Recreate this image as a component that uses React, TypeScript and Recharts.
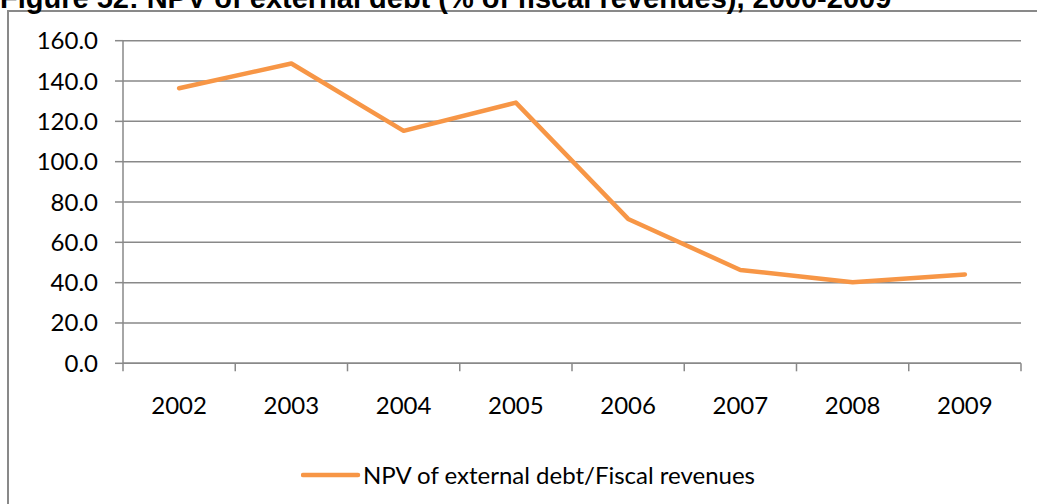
import { LineChart, Line, XAxis, YAxis, CartesianGrid, Legend } from 'recharts';

const years = ['2002', '2003', '2004', '2005', '2006', '2007', '2008', '2009'];
const npvDebt = [136.4, 148.7, 115.3, 129.3, 71.6, 46.3, 40.2, 44.1];
const yTicks = [0, 20, 40, 60, 80, 100, 120, 140, 160];

const data = years.map((year, i) => ({ year, npv: npvDebt[i] }));

const GRAY = '#898989';
const ORANGE = '#F79646';
const FONT = 'Lato, "Open Sans", sans-serif';
const TICK_SIZE = 8;
const TICK_MARGIN = 26;

// category label in the middle of the band, tick marks on the band edges (Excel style)
function YearTick(props: any) {
  const { x, y, payload, index, visibleTicksCount } = props;
  const half = payload.offset || 0;
  const axisY = y - TICK_SIZE - TICK_MARGIN;
  const isLast = index === visibleTicksCount - 1;
  return (
    <g>
      <line x1={x - half} y1={axisY} x2={x - half} y2={axisY + TICK_SIZE} stroke={GRAY} strokeWidth={1.5} />
      {isLast && <line x1={x + half} y1={axisY} x2={x + half} y2={axisY + TICK_SIZE} stroke={GRAY} strokeWidth={1.5} />}
      <text x={x} y={y} dy="0.71em" textAnchor="middle" fill="#000" fontSize={24} fontFamily={FONT}>
        {payload.value}
      </text>
    </g>
  );
}

function LegendContent() {
  return (
    <div style={{ display: 'flex', alignItems: 'center', fontFamily: FONT, fontSize: 24, color: '#000', whiteSpace: 'nowrap' }}>
      <svg width={60} height={10} style={{ display: 'block' }}>
        <line x1={2} y1={5} x2={57} y2={5} stroke={ORANGE} strokeWidth={4.5} strokeLinecap="round" />
      </svg>
      <span style={{ marginLeft: 2 }}>NPV of external debt/Fiscal revenues</span>
    </div>
  );
}

export default function App() {
  return (
    <div style={{ position: 'absolute', left: 0, top: 0, width: 1037, height: 504, overflow: 'hidden', background: '#fff' }}>
      <div style={{ position: 'absolute', left: 7, top: 10, width: 2000, height: 1000, borderLeft: `2px solid ${GRAY}`, borderTop: `2px solid ${GRAY}` }} />
      <div style={{ position: 'absolute', left: 0, top: -16.5, fontFamily: '"Liberation Sans", Arial, sans-serif', fontWeight: 'bold', fontSize: 29, lineHeight: '29px', whiteSpace: 'nowrap', color: '#000' }}>
        Figure 52: NPV of external debt (% of fiscal revenues), 2000-2009
      </div>
      <div style={{ position: 'absolute', left: 0, top: 0 }}>
        <LineChart width={1037} height={504} data={data} margin={{ top: 40.7, right: 16, bottom: 139.7, left: 0 }}>
          <CartesianGrid vertical={false} stroke={GRAY} strokeWidth={1.5} />
          <XAxis
            dataKey="year"
            scale="band"
            height={1}
            stroke={GRAY}
            strokeWidth={1.5}
            tickLine={false}
            tickSize={TICK_SIZE}
            tickMargin={TICK_MARGIN}
            tick={<YearTick />}
            interval={0}
          />
          <YAxis
            width={123}
            domain={[0, 160]}
            ticks={yTicks}
            tickFormatter={(v: number) => v.toFixed(1)}
            tickSize={TICK_SIZE}
            tickMargin={17}
            stroke={GRAY}
            strokeWidth={1.5}
            tick={{ fill: '#000', fontSize: 24, fontFamily: FONT }}
          />
          <Legend
            layout="horizontal"
            verticalAlign="middle"
            align="center"
            content={<LegendContent />}
            wrapperStyle={{ top: 460, left: 301, width: 'auto' }}
          />
          <Line
            type="linear"
            dataKey="npv"
            stroke={ORANGE}
            strokeWidth={4.5}
            strokeLinejoin="round"
            strokeLinecap="round"
            dot={false}
            activeDot={false}
            isAnimationActive={false}
          />
        </LineChart>
      </div>
    </div>
  );
}
